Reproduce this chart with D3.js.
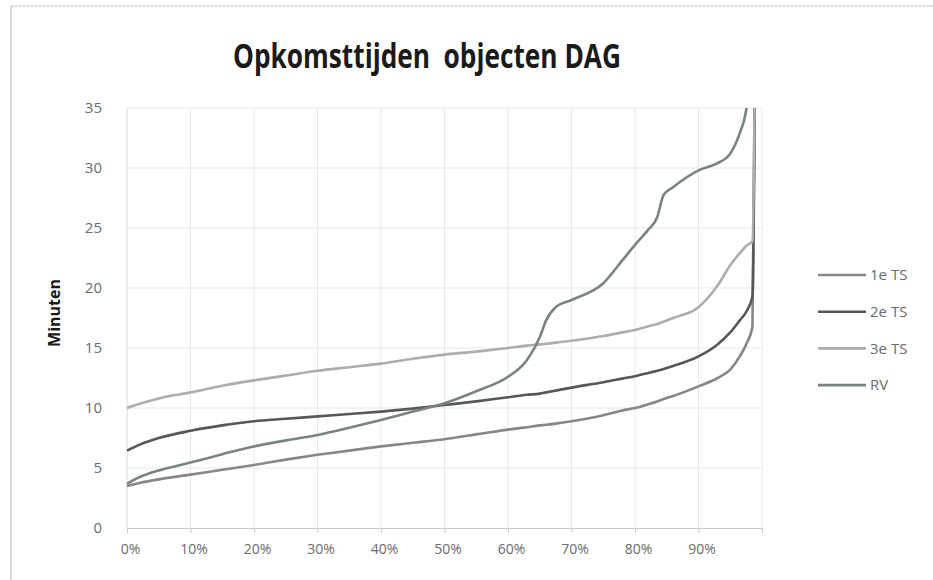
<!DOCTYPE html>
<html>
<head>
<meta charset="utf-8">
<script src="https://d3js.org/d3.v7.min.js"></script>
<style>
  body { margin: 0; background: #fff; }
  svg { display: block; }
</style>
</head>
<body>
<svg id="chart" width="933" height="580"></svg>
<script>
// share of calls (x axis) and response time in minutes per vehicle
var percentiles = [0, .02, .05, .10, .15, .20, .25, .30, .35, .40, .45, .50, .55, .60, .63, .65, .66, .675,
                   .70, .75, .78, .80, .82, .835, .845, .86, .90, .93, .95, .965, .975, .985, .99];

var ts1 = [3.5, 3.75, 4.05, 4.45, 4.85, 5.25, 5.7, 6.1, 6.45, 6.8, 7.1, 7.4, 7.8, 8.2, 8.4, 8.55, 8.6, 8.7,
           8.9, 9.4, 9.8, 10.0, 10.3, 10.55, 10.75, 11.0, 11.8, 12.5, 13.2, 14.3, 15.3, 16.8, 45];
var ts2 = [6.45, 6.95, 7.5, 8.1, 8.55, 8.9, 9.1, 9.3, 9.5, 9.7, 9.95, 10.25, 10.55, 10.9, 11.1, 11.2, 11.3, 11.45,
           11.7, 12.15, 12.45, 12.65, 12.9, 13.1, 13.25, 13.5, 14.3, 15.3, 16.3, 17.3, 18.0, 19.3, 45];
var ts3 = [10.0, 10.35, 10.8, 11.3, 11.85, 12.3, 12.7, 13.1, 13.4, 13.7, 14.1, 14.45, 14.7, 15.0, 15.2, 15.3, 15.35, 15.45,
           15.6, 16.0, 16.3, 16.5, 16.8, 17.0, 17.2, 17.5, 18.4, 20.2, 21.9, 22.9, 23.5, 23.9, 45];
var rv  = [3.7, 4.25, 4.8, 5.45, 6.15, 6.8, 7.3, 7.75, 8.35, 9.0, 9.7, 10.4, 11.4, 12.6, 14.0, 15.9, 17.3, 18.4,
           19.0, 20.4, 22.3, 23.6, 24.8, 25.9, 27.75, 28.4, 29.8, 30.4, 31.2, 32.9, 34.8, 40, 45];

var seriesNames = ["1e TS", "2e TS", "3e TS", "RV"];
var seriesColors = ["#868786", "#565756", "#acadac", "#7a837e"];
var seriesValues = [ts1, ts2, ts3, rv];

var xTicks = [0, .1, .2, .3, .4, .5, .6, .7, .8, .9];
var yTicks = [0, 5, 10, 15, 20, 25, 30, 35];

var svg = d3.select("#chart");
var plotLeft = 127, plotRight = 762, plotTop = 108, plotBottom = 528;

var x = d3.scaleLinear().domain([0, 1]).range([plotLeft, plotRight]);
var y = d3.scaleLinear().domain([0, 35]).range([plotBottom, plotTop]);

// frame of the scanned chart
svg.append("line").attr("x1", 11).attr("x2", 933).attr("y1", 6).attr("y2", 6)
   .attr("stroke", "#b5b5b5").attr("stroke-width", 1.2).attr("stroke-dasharray", "3,1");
svg.append("line").attr("x1", 11).attr("x2", 11).attr("y1", 6).attr("y2", 580)
   .attr("stroke", "#c4c4c4").attr("stroke-width", 1.2);

// title, squeezed horizontally to look like the narrow original font
var title = svg.append("text")
   .attr("text-anchor", "middle")
   .attr("font-family", "Open Sans, sans-serif")
   .attr("font-weight", "bold")
   .attr("font-size", 34)
   .attr("fill", "#1a1a1a")
   .style("white-space", "pre")
   .text("Opkomsttijden  objecten DAG");
var tw = title.node().getComputedTextLength();
title.attr("transform", "translate(427,68) scale(" + (388 / tw) + ",1)");

// grid
svg.append("g").selectAll("line").data(d3.range(0, 1.01, 0.1)).join("line")
   .attr("x1", d => x(d)).attr("x2", d => x(d))
   .attr("y1", plotTop).attr("y2", plotBottom)
   .attr("stroke", "#e6e9e8").attr("stroke-width", 1);
svg.append("g").selectAll("line").data(yTicks.slice(1)).join("line")
   .attr("x1", plotLeft).attr("x2", plotRight)
   .attr("y1", d => y(d)).attr("y2", d => y(d))
   .attr("stroke", "#e6e9e8").attr("stroke-width", 1);

// x axis
var xAxis = svg.append("g")
   .attr("transform", "translate(0," + plotBottom + ")")
   .call(d3.axisBottom(x).tickValues(xTicks.concat([1])).tickSize(5)
         .tickFormat(d => d < 1 ? d3.format(".0%")(d) : ""));
xAxis.select(".domain").attr("stroke", "#c8cccc");
xAxis.selectAll(".tick line").attr("stroke", "#c8cccc");
xAxis.selectAll("text")
   .attr("font-family", "Open Sans, sans-serif").attr("font-size", 14)
   .attr("fill", "#6a6c6c").attr("dx", 3).attr("dy", 18);

// y axis labels
var yAxis = svg.append("g")
   .attr("transform", "translate(" + plotLeft + ",0)")
   .call(d3.axisLeft(y).tickValues(yTicks).tickSize(0).tickPadding(25));
yAxis.select(".domain").attr("stroke", "#e6e9e8");
yAxis.selectAll("text")
   .attr("font-family", "Open Sans, sans-serif").attr("font-size", 15)
   .attr("fill", "#6a6c6c");

svg.append("text")
   .attr("transform", "translate(60,313) rotate(-90)")
   .attr("text-anchor", "middle")
   .attr("font-family", "Open Sans, sans-serif")
   .attr("font-weight", "bold")
   .attr("font-size", 16)
   .attr("fill", "#1a1a1a")
   .text("Minuten");

// lines
svg.append("clipPath").attr("id", "plot")
   .append("rect").attr("x", plotLeft - 3).attr("y", plotTop)
   .attr("width", plotRight - plotLeft + 6).attr("height", plotBottom - plotTop + 3);

var line = d3.line()
   .x((d, i) => x(percentiles[i]))
   .y(d => y(d))
   .curve(d3.curveMonotoneX);

svg.append("g").attr("clip-path", "url(#plot)")
   .selectAll("path").data(seriesValues).join("path")
   .attr("d", d => line(d))
   .attr("fill", "none")
   .attr("stroke", (d, i) => seriesColors[i])
   .attr("stroke-width", 2.6)
   .attr("stroke-linejoin", "round");

// legend
var legend = svg.append("g").selectAll("g").data(seriesNames).join("g")
   .attr("transform", (d, i) => "translate(818," + (275 + i * 36.7) + ")");
legend.append("line").attr("x1", 0).attr("x2", 48)
   .attr("stroke", (d, i) => seriesColors[i]).attr("stroke-width", 2.6);
legend.append("text").attr("x", 52).attr("dy", "0.35em")
   .attr("font-family", "Open Sans, sans-serif").attr("font-size", 15)
   .attr("fill", "#6a6c6c")
   .text(d => d);
</script>
</body>
</html>
